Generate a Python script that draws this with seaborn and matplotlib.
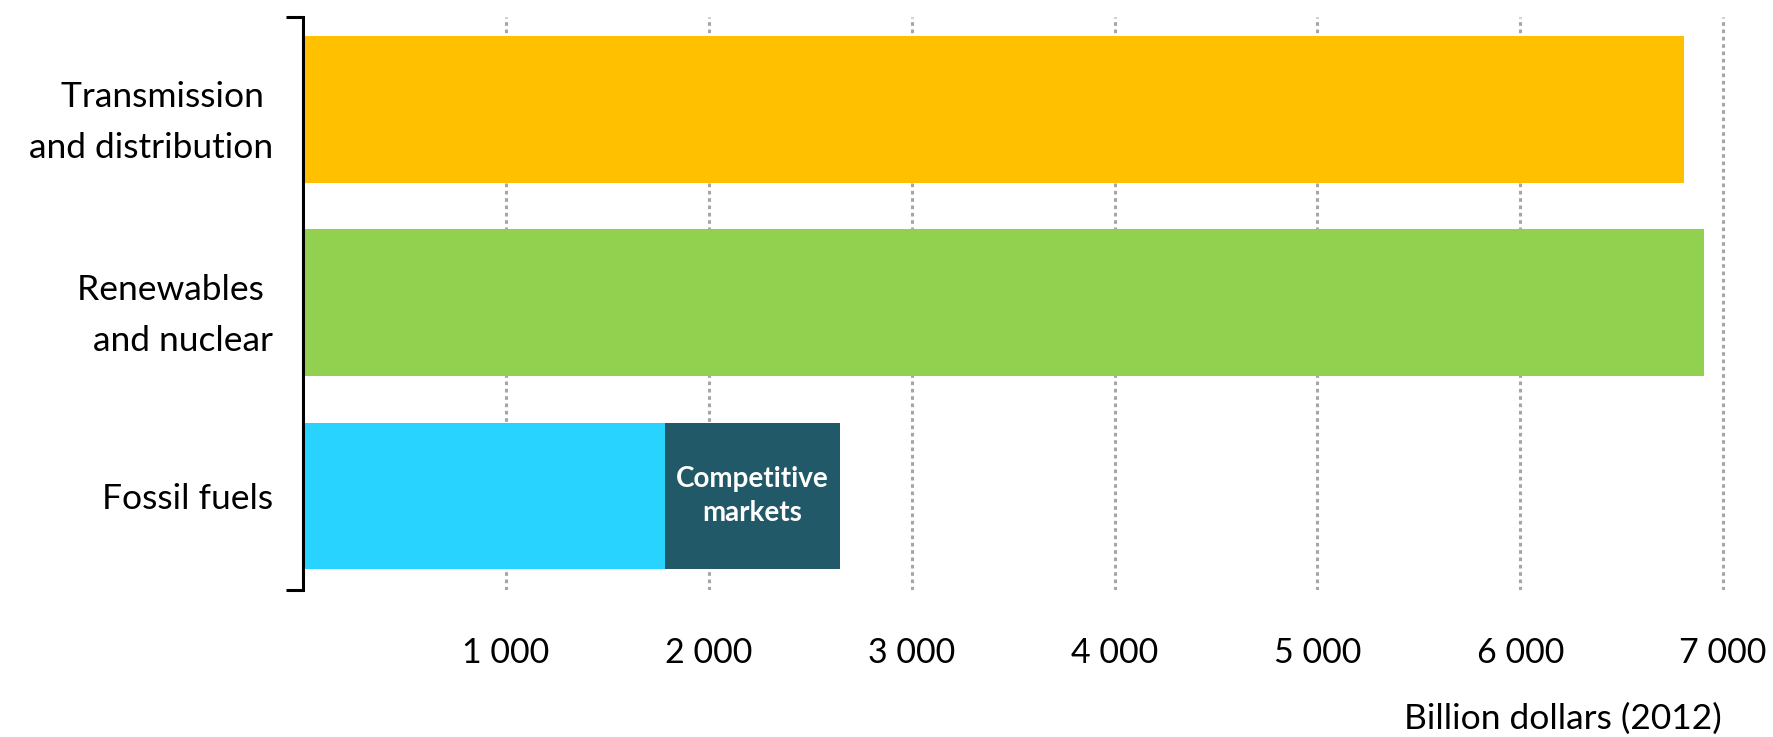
import matplotlib
matplotlib.use("Agg")
import matplotlib.pyplot as plt
import seaborn as sns
import pandas as pd
from matplotlib.lines import Line2D

categories = ["Transmission \nand distribution", "Renewables \nand nuclear", "Fossil fuels"]
total_values = [6808, 6908, 2646]          # full bar lengths
base_values = [0, 0, 1783]                 # fossil fuels outside competitive markets
bar_colors = ["#FFC000", "#92D050", "#215968"]
base_color = "#29D3FF"
tick_values = [1000, 2000, 3000, 4000, 5000, 6000, 7000]
tick_labels = ["1 000", "2 000", "3 000", "4 000", "5 000", "6 000", "7 000"]
segment_label = "Competitive\nmarkets"
x_title = "Billion dollars (2012)"

sns.set_theme(style="white")
plt.rcParams["font.family"] = ["Lato", "DejaVu Sans"]

fig = plt.figure(figsize=(17.73, 7.37), dpi=100)
ax = fig.add_axes([0.171, 0.2, 0.989 - 0.171, 0.977 - 0.2])

df_total = pd.DataFrame({"cat": categories, "val": total_values})
df_base = pd.DataFrame({"cat": categories, "val": base_values})

sns.barplot(data=df_total, x="val", y="cat", hue="cat", palette=bar_colors,
            order=categories, width=0.76, legend=False, ax=ax, saturation=1)
sns.barplot(data=df_base, x="val", y="cat", color=base_color,
            order=categories, width=0.76, ax=ax, saturation=1)

for p in ax.patches:
    p.set_edgecolor("none")
    p.set_linewidth(0)

ax.set_xlim(0, 7150)
ax.set_ylim(2.485, -0.48)

ax.set_xticks(tick_values)
ax.set_xticklabels(tick_labels)
ax.grid(axis="x", color="#A6A6A6", linestyle=(0, (1.2, 1.2)), linewidth=2.2)
ax.grid(axis="y", visible=False)
ax.set_axisbelow(True)

for s in ["top", "right", "bottom"]:
    ax.spines[s].set_visible(False)
ax.spines["left"].set_color("black")
ax.spines["left"].set_linewidth(2.2)

# bracket serifs
for yy in (0.0, 1.0):
    ax.add_line(Line2D([-0.012, 0.0], [yy, yy], transform=ax.transAxes,
                       color="black", linewidth=2.2, clip_on=False,
                       solid_capstyle="butt"))

ax.tick_params(axis="x", length=0, pad=34, labelsize=24.5, labelcolor="black")
ax.tick_params(axis="y", length=0, pad=22, labelsize=25.5, labelcolor="black")
for t in ax.get_yticklabels():
    t.set_linespacing(1.75)
ax.set_xlabel("")
ax.set_ylabel("")

ax.text(base_values[2] + (total_values[2] - base_values[2]) / 2, 2, segment_label,
        ha="center", va="center", color="white", fontsize=20, fontweight="bold",
        linespacing=1.38)

fig.text(1722 / 1773, 1 - 719 / 737, x_title, ha="right", va="center",
         fontsize=25.5, color="black")

fig.savefig("out.png", dpi=100, facecolor="white")
